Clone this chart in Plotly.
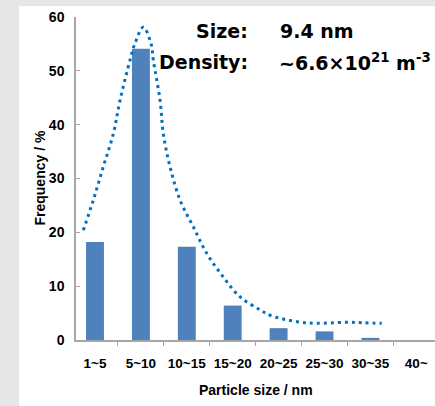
import plotly.graph_objects as go

# Particle size distribution (frequency per size class)
size_classes = ["1~5", "5~10", "10~15", "15~20", "20~25", "25~30", "30~35", "40~"]
frequency = [18.2, 54.1, 17.3, 6.4, 2.2, 1.6, 0.4, 0.0]

# Smoothed envelope of the distribution; x is in size-class index units
envelope_x = [-0.255, -0.037, 0.181, 0.399, 0.545, 0.763, 0.871, 1.052, 1.220,
              1.270, 1.416, 1.488, 1.634, 1.852, 2.142, 2.434, 2.795, 3.159,
              3.595, 3.813, 4.394, 4.830, 5.484, 5.845, 6.246]
envelope_y = [20.4, 26.0, 32.2, 38.3, 44.5, 52.0, 55.1, 58.1, 55.1,
              52.0, 44.6, 38.3, 32.2, 26.0, 21.0, 16.1, 11.7, 8.0,
              5.6, 4.6, 3.4, 3.1, 3.3, 3.2, 3.1]

x_range = [-0.414, 7.407]
axis_grey = "#a6a6a6"
chart_font = "Liberation Sans, Arial, sans-serif"
note_font = "DejaVu Sans, sans-serif"

fig = go.Figure()
fig.add_trace(go.Bar(
    x=size_classes, y=frequency, width=0.39,
    marker=dict(color="#4f81bd", line=dict(width=0)),
    xaxis="x", yaxis="y", showlegend=False,
))
fig.add_trace(go.Scatter(
    x=envelope_x, y=envelope_y, mode="lines",
    line=dict(shape="spline", smoothing=1.0, dash="3px,4px", width=3, color="#0070c0"),
    xaxis="x2", yaxis="y", showlegend=False,
))

fig.update_layout(
    width=435, height=406,
    margin=dict(l=76, r=0, t=17, b=66),
    paper_bgcolor="#e6e6e6",
    plot_bgcolor="white",
    xaxis=dict(
        type="category", range=x_range, tickson="boundaries", tickangle=0,
        ticks="outside", ticklen=4, tickwidth=1.2, tickcolor=axis_grey,
        showline=True, linecolor=axis_grey, linewidth=1.5,
        showgrid=False, zeroline=False,
        tickfont=dict(family=chart_font, size=13.5, color="#000", weight="bold"),
        ticklabelstandoff=10,
    ),
    xaxis2=dict(overlaying="x", range=x_range, visible=False),
    yaxis=dict(
        range=[0, 60], dtick=10,
        ticks="inside", ticklen=4, tickwidth=1.2, tickcolor=axis_grey,
        showline=True, linecolor=axis_grey, linewidth=1.5,
        showgrid=False, zeroline=False,
        tickfont=dict(family=chart_font, size=14, color="#000", weight="bold"),
        ticklabelstandoff=7,
    ),
    shapes=[dict(
        type="rect", xref="paper", yref="paper",
        x0=-0.1588, x1=1.0, y0=-0.2043, y1=1.0341,
        fillcolor="white", line=dict(width=0), layer="below",
    )],
)

title_font = dict(family=chart_font, size=14, color="#000", weight="bold")
fig.add_annotation(text="Frequency / %", textangle=-90, xref="paper", yref="paper",
                   x=-0.103, y=0.5, xanchor="center", yanchor="middle",
                   showarrow=False, font=title_font)
fig.add_annotation(text="Particle size / nm", xref="paper", yref="paper",
                   x=0.5, y=-0.1548, xanchor="center", yanchor="middle",
                   showarrow=False, font=title_font)

note = dict(family=note_font, size=19, color="#000", weight="bold")
fig.add_annotation(text="Size:", xref="paper", yref="paper", x=0.4847, y=0.9567,
                   xanchor="right", yanchor="middle", showarrow=False, font=note)
fig.add_annotation(text="9.4 nm", xref="paper", yref="paper", x=0.5627, y=0.9567,
                   xanchor="left", yanchor="middle", showarrow=False, font=note)
fig.add_annotation(text="Density:", xref="paper", yref="paper", x=0.4847, y=0.862,
                   xanchor="right", yanchor="middle", showarrow=False, font=note)
fig.add_annotation(text="~6.6×10<sup>21</sup> m<sup>-3</sup>", xref="paper", yref="paper",
                   x=0.5600, y=0.862, xanchor="left", yanchor="middle",
                   showarrow=False, font=note)

fig.write_html("out.html")
